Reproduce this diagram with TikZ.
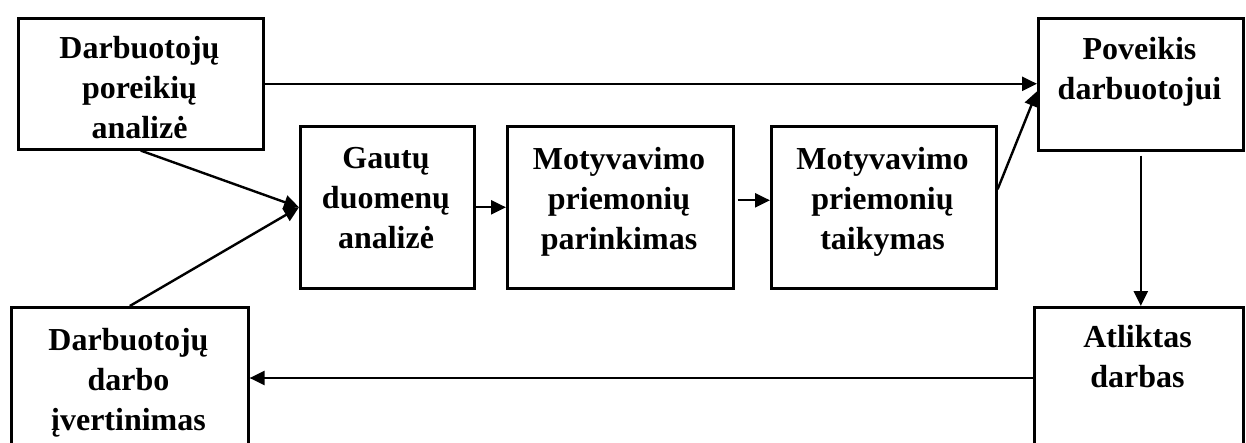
\documentclass[tikz,border=0pt]{standalone}
\usepackage{fontspec}
\setmainfont{Liberation Serif}
\usetikzlibrary{arrows.meta}
\begin{document}
\begin{tikzpicture}[x=0.5pt,y=-0.5pt,
  frame/.style={draw, line width=1.3pt, rectangle, inner sep=0pt, anchor=north west},
  caption/.style={anchor=north, inner sep=0pt, align=center,
    font=\fontsize{16pt}{20pt}\selectfont\bfseries},
  arr/.style={line width=1.2pt, -{Triangle[length=7.5pt,width=7pt]}},
  plain/.style={line width=1.2pt}]
\useasboundingbox (0,0) rectangle (1246,443);
\clip (0,0) rectangle (1246,443);
% boxes
\node[frame, minimum width=122.5pt, minimum height=65.5pt] (b1) at (17,17) {};
\node[frame, minimum width=87pt,  minimum height=81pt] (b2) at (299,125) {};
\node[frame, minimum width=113pt, minimum height=81pt] (b3) at (506,125) {};
\node[frame, minimum width=112.5pt, minimum height=81pt] (b4) at (770,125) {};
\node[frame, minimum width=102.5pt, minimum height=66pt] (b5) at (1037,17) {};
\node[frame, minimum width=104.5pt, minimum height=90pt] (b6) at (1033,306) {};
\node[frame, minimum width=118.5pt, minimum height=90pt] (b7) at (10,306) {};
% texts
\node[caption] (t1) at (139.5,36) {Darbuotojų\\poreikių\\analizė};
\node[caption] (t2) at (386,147) {Gautų\\duomenų\\analizė};
\node[caption] (t3) at (619,147) {Motyvavimo\\priemonių\\parinkimas};
\node[caption] (t4) at (882.5,147) {Motyvavimo\\priemonių\\taikymas};
\node[caption] (t5) at (1139.5,37) {Poveikis\\darbuotojui};
\node[caption] (t6) at (1137.5,325) {Atliktas\\darbas};
\node[caption] (t7) at (128.5,328) {Darbuotojų\\darbo\\įvertinimas};
% connectors
\draw[arr] (b1.east) -- (b1.east -| b5.west);
\draw[arr] (b1.south) -- (b2.west);
\draw[arr] (b7.north) -- (b2.west);
\draw[arr] (b2.east) -- (b3.west);
\draw[arr, shorten <=1.5pt] ([yshift=3.5pt]b3.east) -- ([yshift=3.5pt]b4.west);
\draw[arr] ([yshift=9pt]b4.east) -- ([yshift=-3.5pt]b5.west);
\draw[arr, shorten <=2pt] (b5.south) -- (b5.south |- b6.north);
\coordinate (row) at (0,378);
\draw[arr] (row -| b6.west) -- (row -| b7.east);
\end{tikzpicture}
\end{document}
